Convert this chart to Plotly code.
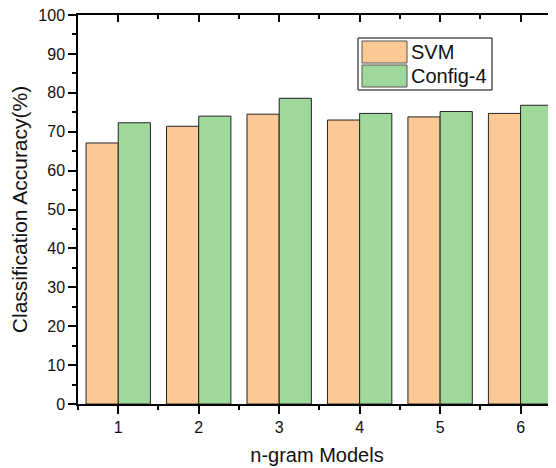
import plotly.graph_objects as go

# ---- data ----
categories = [1, 2, 3, 4, 5, 6]
svm_name = "SVM"
cfg_name = "Config-4"
svm_values = [67.1, 71.4, 74.5, 73.0, 73.8, 74.7]
cfg_values = [72.3, 74.0, 78.6, 74.7, 75.2, 76.8]
y_ticks = [0, 10, 20, 30, 40, 50, 60, 70, 80, 90, 100]
x_title = "n-gram Models"
y_title = "Classification Accuracy(%)"

svm_color = "#FCC896"
cfg_color = "#9FD89B"
font = "Liberation Sans, Arial, sans-serif"

# page body has an 8px default margin; compensate so the plot area lands at
# screen x 78..556, y 15..404
OFF = 8
W, H = 556 - OFF, 468 - OFF
L, R, T, B = 78 - OFF, 0, 15 - OFF, (468 - OFF) - (404 - OFF)

fig = go.Figure()
fig.add_trace(go.Bar(x=categories, y=svm_values, name=svm_name,
                     marker=dict(color=svm_color, line=dict(color="#222", width=1))))
fig.add_trace(go.Bar(x=categories, y=cfg_values, name=cfg_name,
                     marker=dict(color=cfg_color, line=dict(color="#222", width=1))))

xr = [0.5, 6.44]
yr = [0, 100]

fig.update_layout(
    width=W, height=H,
    margin=dict(l=L, r=R, t=T, b=B, pad=0),
    plot_bgcolor="white", paper_bgcolor="white",
    barmode="group", bargap=0.2, bargroupgap=0,
    showlegend=False,
    font=dict(family=font, color="#111", size=16),
    xaxis=dict(range=xr, tickvals=categories, ticktext=[str(c) for c in categories],
               automargin=False, ticklabeloverflow="allow",
               ticks="outside", ticklen=8, tickwidth=1.5, tickcolor="black",
               minor=dict(ticks="outside", ticklen=4, tickwidth=1.5, tickcolor="black",
                          tick0=0.5, dtick=0.5),
               showline=True, linecolor="black", linewidth=1.5,
               showgrid=False, zeroline=False,
               tickfont=dict(size=16, family=font),
               title=dict(text=x_title, font=dict(size=20, family=font), standoff=13)),
    yaxis=dict(range=yr, tickvals=y_ticks,
               automargin=False, ticklabeloverflow="allow",
               ticks="outside", ticklen=8, tickwidth=1.5, tickcolor="black",
               minor=dict(ticks="outside", ticklen=4, tickwidth=1.5, tickcolor="black",
                          tick0=0, dtick=5),
               showline=True, linecolor="black", linewidth=1.5,
               showgrid=False, zeroline=False,
               tickfont=dict(size=16, family=font),
               title=dict(text=y_title, font=dict(size=21, family=font), standoff=8)),
    xaxis2=dict(range=xr, overlaying="x", side="top", anchor="y",
                automargin=False,
                tickvals=categories, showticklabels=False,
                ticks="inside", ticklen=7, tickwidth=1.5, tickcolor="black",
                minor=dict(ticks="inside", ticklen=4, tickwidth=1.5, tickcolor="black",
                           tick0=0.5, dtick=0.5),
                showline=True, linecolor="black", linewidth=1.5,
                showgrid=False, zeroline=False),
    yaxis2=dict(range=yr, overlaying="y", side="right", anchor="x",
                automargin=False,
                tickvals=y_ticks, showticklabels=False,
                ticks="inside", ticklen=7, tickwidth=1.5, tickcolor="black",
                showline=True, linecolor="black", linewidth=1.5,
                showgrid=False, zeroline=False),
)

# invisible helper trace so the mirrored axes are drawn
fig.add_trace(go.Scatter(x=[None], y=[None], xaxis="x2", yaxis="y2",
                         showlegend=False, hoverinfo="skip"))

# ---- legend drawn as shapes (large swatches like the original) ----
# helpers take screen pixel positions and convert to paper fractions
def px(x):
    return (x - 78) / (556 - 78)
def py(y):
    return (404 - y) / (404 - 15)

shapes = [
    dict(type="rect", xref="paper", yref="paper",
         x0=px(358), x1=px(492), y0=py(90), y1=py(38),
         line=dict(color="black", width=1), fillcolor="white", layer="above"),
    dict(type="rect", xref="paper", yref="paper",
         x0=px(362), x1=px(407), y0=py(63), y1=py(41),
         line=dict(color="#555", width=1), fillcolor=svm_color, layer="above"),
    dict(type="rect", xref="paper", yref="paper",
         x0=px(362), x1=px(407), y0=py(87), y1=py(65),
         line=dict(color="#555", width=1), fillcolor=cfg_color, layer="above"),
]
annotations = [
    dict(xref="paper", yref="paper", x=px(409), y=py(52), text=svm_name,
         showarrow=False, xanchor="left", yanchor="middle",
         font=dict(size=20, family=font, color="#111")),
    dict(xref="paper", yref="paper", x=px(409), y=py(76), text=cfg_name,
         showarrow=False, xanchor="left", yanchor="middle",
         font=dict(size=20, family=font, color="#111")),
]
fig.update_layout(shapes=shapes, annotations=annotations)

fig.write_html("out.html")
